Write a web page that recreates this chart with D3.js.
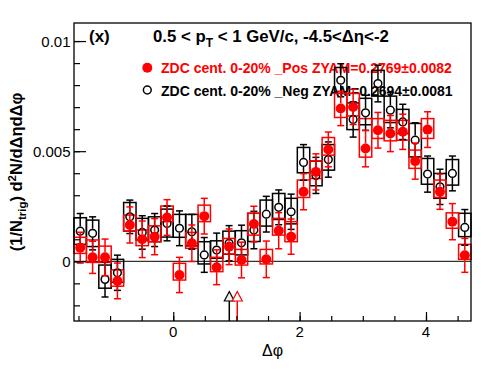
<!DOCTYPE html>
<html>
<head>
<meta charset="utf-8">
<script src="https://cdn.jsdelivr.net/npm/d3@7"></script>
<style>
  body { margin: 0; background: #fff; }
  text { font-family: "Liberation Sans", Arial, sans-serif; }
</style>
</head>
<body>
<div id="vis"><svg></svg></div>
<script>
// values are in units of 1e-3
const nBins = 32;
const posVal  = [0.62,0.18,0.18,-0.89,1.65,1.00,1.12,1.99,-0.62,0.82,2.05,-0.27,0.66,0.06,1.69,0.09,1.39,1.12,3.16,4.06,5.08,6.94,7.01,5.12,5.95,5.80,5.88,4.55,5.98,3.16,1.80,0.27];
const posStat = [0.70,0.73,0.83,0.81,0.82,0.83,0.82,0.81,0.80,0.83,0.81,0.79,0.81,0.81,0.81,0.83,0.82,0.80,0.82,0.82,0.79,0.78,0.80,0.83,0.81,0.82,0.80,0.82,0.81,0.80,0.82,0.77];
const posBoxLo = [0.36,-0.05,-0.05,-1.13,1.37,0.71,0.89,1.80,-0.85,0.59,1.80,-0.47,0.33,-0.17,1.19,-0.12,1.19,0.89,2.90,3.76,4.82,6.53,6.60,4.73,5.58,5.47,5.50,4.22,5.58,2.90,1.50,0.09];
const posBoxHi = [1.09,0.97,0.69,-0.39,2.10,1.42,1.61,2.51,-0.09,1.31,2.55,0.18,1.04,0.54,2.18,0.54,1.95,1.80,3.69,4.56,5.62,7.62,7.62,6.48,6.48,6.40,6.40,5.05,6.48,3.69,2.20,0.77];

const negVal  = [1.37,1.27,-0.82,-0.52,2.02,1.31,1.42,1.72,1.50,1.34,0.29,0.51,0.82,0.84,1.42,2.14,2.45,2.25,4.49,3.90,4.62,8.22,6.44,6.74,8.07,6.86,6.33,5.50,3.96,3.38,3.99,1.54];
const negStat = [0.80,0.75,0.80,0.80,0.76,0.76,0.75,0.79,0.79,0.79,0.79,0.77,0.80,0.80,0.85,0.81,0.79,0.80,0.81,0.82,0.80,0.75,0.80,0.80,0.83,0.80,0.80,0.79,0.82,0.80,0.79,0.81];
const negBoxLo = [0.77,0.67,-1.22,-0.95,1.37,0.97,0.89,1.10,1.09,0.70,-0.12,0.14,0.32,0.29,0.90,1.60,1.90,1.70,4.02,3.43,4.14,7.70,5.98,6.20,7.50,6.30,5.80,4.74,3.50,2.86,3.46,1.12];
const negBoxHi = [1.98,1.87,-0.17,0.09,2.67,1.95,2.02,2.37,2.13,2.13,0.89,0.93,1.37,1.39,2.18,2.78,3.08,2.86,5.17,4.55,5.30,8.80,7.19,7.40,8.67,7.50,6.90,6.26,4.67,3.99,4.62,2.18];

// ZYAM minimum positions (delta phi)
const zyamNeg = 0.887;
const zyamPos = 1.013;

const yTicks = [0, 5, 10];
const yTickLabels = ["0", "0.005", "0.01"];
const xTicks = [0, 2, 4];
const xTickLabels = ["0", "2", "4"];

const legendPos = "ZDC cent. 0-20% _Pos ZYAM=0.2769\u00b10.0082";
const legendNeg = "ZDC cent. 0-20% _Neg ZYAM=0.2694\u00b10.0081";

const W = 496, H = 374;
const margin = {top: 23, right: 25, bottom: 53, left: 74};

const svg = d3.select("#vis").select("svg")
  .attr("width", W).attr("height", H);

const x = d3.scaleLinear()
  .domain([-Math.PI / 2, 3 * Math.PI / 2])
  .range([margin.left, W - margin.right]);
const y = d3.scaleLinear()
  .domain([-2.71, 10.82])
  .range([H - margin.bottom, margin.top]);

const bw = 2 * Math.PI / nBins;
const centers = d3.range(nBins).map(i => -Math.PI / 2 + (i + 0.5) * bw);

// panel label, title and legend go under the data
svg.append("text").attr("x", 89).attr("y", 42)
  .attr("font-size", 17).attr("font-weight", "bold").text("(x)");
const tt = svg.append("text").attr("x", 153).attr("y", 42)
  .attr("font-size", 16.8).attr("font-weight", "bold");
tt.append("tspan").text("0.5 < p");
tt.append("tspan").attr("dy", 5).attr("font-size", 12).text("T");
tt.append("tspan").attr("dy", -5).text(" < 1 GeV/c, -4.5<\u0394\u03b7<-2");

svg.append("circle").attr("cx", 147.3).attr("cy", 67.7).attr("r", 5).attr("fill", "#ff0000");
svg.append("text").attr("x", 161).attr("y", 73)
  .attr("font-size", 14).attr("font-weight", "bold").attr("fill", "#ff0000")
  .text(legendPos);
svg.append("circle").attr("cx", 147.3).attr("cy", 90).attr("r", 3.9)
  .attr("fill", "none").attr("stroke", "#000").attr("stroke-width", 1.5);
svg.append("text").attr("x", 161).attr("y", 95.5)
  .attr("font-size", 14).attr("font-weight", "bold").attr("fill", "#000")
  .text(legendNeg);

// zero line
svg.append("line")
  .attr("x1", x.range()[0]).attr("x2", x.range()[1])
  .attr("y1", y(0)).attr("y2", y(0))
  .attr("stroke", "#000").attr("stroke-width", 1);

function drawBoxes(lo, hi, color) {
  svg.append("g").selectAll("rect")
    .data(centers)
    .join("rect")
    .attr("x", d => x(d - bw / 2))
    .attr("width", d => x(d + bw / 2) - x(d - bw / 2))
    .attr("y", (d, i) => y(hi[i]))
    .attr("height", (d, i) => y(lo[i]) - y(hi[i]))
    .attr("fill", "none")
    .attr("stroke", color)
    .attr("stroke-width", 1.5);
}

function drawPoints(val, err, color, filled) {
  const g = svg.append("g");
  const r = filled ? 5 : 4.6;
  const cap = 3.5;
  centers.forEach((c, i) => {
    const cx = x(c), cy = y(val[i]);
    const top = y(val[i] + err[i]), bot = y(val[i] - err[i]);
    g.append("line").attr("x1", cx).attr("x2", cx).attr("y1", top).attr("y2", cy - r)
      .attr("stroke", color).attr("stroke-width", 1.5);
    g.append("line").attr("x1", cx).attr("x2", cx).attr("y1", cy + r).attr("y2", bot)
      .attr("stroke", color).attr("stroke-width", 1.5);
    g.append("line").attr("x1", cx - cap).attr("x2", cx + cap).attr("y1", top).attr("y2", top)
      .attr("stroke", color).attr("stroke-width", 1.5);
    g.append("line").attr("x1", cx - cap).attr("x2", cx + cap).attr("y1", bot).attr("y2", bot)
      .attr("stroke", color).attr("stroke-width", 1.5);
    g.append("circle").attr("cx", cx).attr("cy", cy).attr("r", filled ? r : r - 0.75)
      .attr("fill", filled ? color : "none")
      .attr("stroke", color).attr("stroke-width", filled ? 0 : 1.5);
  });
}

drawBoxes(negBoxLo, negBoxHi, "#000");
drawBoxes(posBoxLo, posBoxHi, "#ff0000");
drawPoints(negVal, negStat, "#000", false);
drawPoints(posVal, posStat, "#ff0000", true);

// ZYAM markers
function zyamMarker(pos, color, fill) {
  const px = x(pos), base = H - margin.bottom;
  svg.append("line").attr("x1", px).attr("x2", px).attr("y1", base).attr("y2", base - 20)
    .attr("stroke", color).attr("stroke-width", 1.5);
  svg.append("path")
    .attr("d", `M${px - 5},${base - 20} L${px + 5},${base - 20} L${px},${base - 29.5} Z`)
    .attr("fill", fill).attr("stroke", color).attr("stroke-width", 1.2);
}
zyamMarker(zyamNeg, "#000", "#ececec");
zyamMarker(zyamPos, "#ff0000", "#fff");

// frame
svg.append("rect")
  .attr("x", margin.left).attr("y", margin.top)
  .attr("width", W - margin.left - margin.right)
  .attr("height", H - margin.top - margin.bottom)
  .attr("fill", "none").attr("stroke", "#000").attr("stroke-width", 1.3);

// axes (ROOT style ticks pointing inward)
const xAxis = svg.append("g").attr("transform", `translate(0,${H - margin.bottom})`);
xAxis.call(d3.axisTop(x).tickValues(d3.range(-1.5, 4.75, 0.5)).tickSize(5).tickFormat(""));
xAxis.append("g").call(d3.axisTop(x).tickValues(xTicks).tickSize(9).tickFormat(""));
xAxis.selectAll(".domain").remove();
xAxis.selectAll("line").attr("stroke-width", 1.2);
xAxis.append("g").selectAll("text")
  .data(xTicks)
  .join("text")
  .attr("x", d => x(d)).attr("y", 16)
  .attr("text-anchor", "middle").attr("font-size", 15).attr("fill", "#000")
  .text((d, i) => xTickLabels[i]);

const yAxis = svg.append("g").attr("transform", `translate(${margin.left},0)`);
yAxis.call(d3.axisRight(y).tickValues(d3.range(-2, 11, 1)).tickSize(6).tickFormat(""));
yAxis.append("g").call(d3.axisRight(y).tickValues(yTicks).tickSize(12).tickFormat(""));
yAxis.selectAll(".domain").remove();
yAxis.selectAll("line").attr("stroke-width", 1.2);
yAxis.append("g").selectAll("text")
  .data(yTicks)
  .join("text")
  .attr("x", -3.5).attr("y", d => y(d) + 5.5)
  .attr("text-anchor", "end").attr("font-size", 15).attr("fill", "#000")
  .text((d, i) => yTickLabels[i]);

// x title
svg.append("text")
  .attr("x", (x.range()[0] + x.range()[1]) / 2).attr("y", 356)
  .attr("text-anchor", "middle").attr("font-size", 16)
  .text("\u0394\u03c6");

// y title
const yt = svg.append("text")
  .attr("transform", `translate(22,${(y.range()[0] + y.range()[1]) / 2}) rotate(-90)`)
  .attr("text-anchor", "middle").attr("font-size", 16.5).attr("font-weight", "bold");
yt.append("tspan").text("(1/N");
yt.append("tspan").attr("dy", 4).attr("font-size", 11.5).text("trig");
yt.append("tspan").attr("dy", -4).text(") d");
yt.append("tspan").attr("dy", -6).attr("font-size", 11.5).text("2");
yt.append("tspan").attr("dy", 6).text("N/d\u0394\u03b7d\u0394\u03c6");
</script>
</body>
</html>
